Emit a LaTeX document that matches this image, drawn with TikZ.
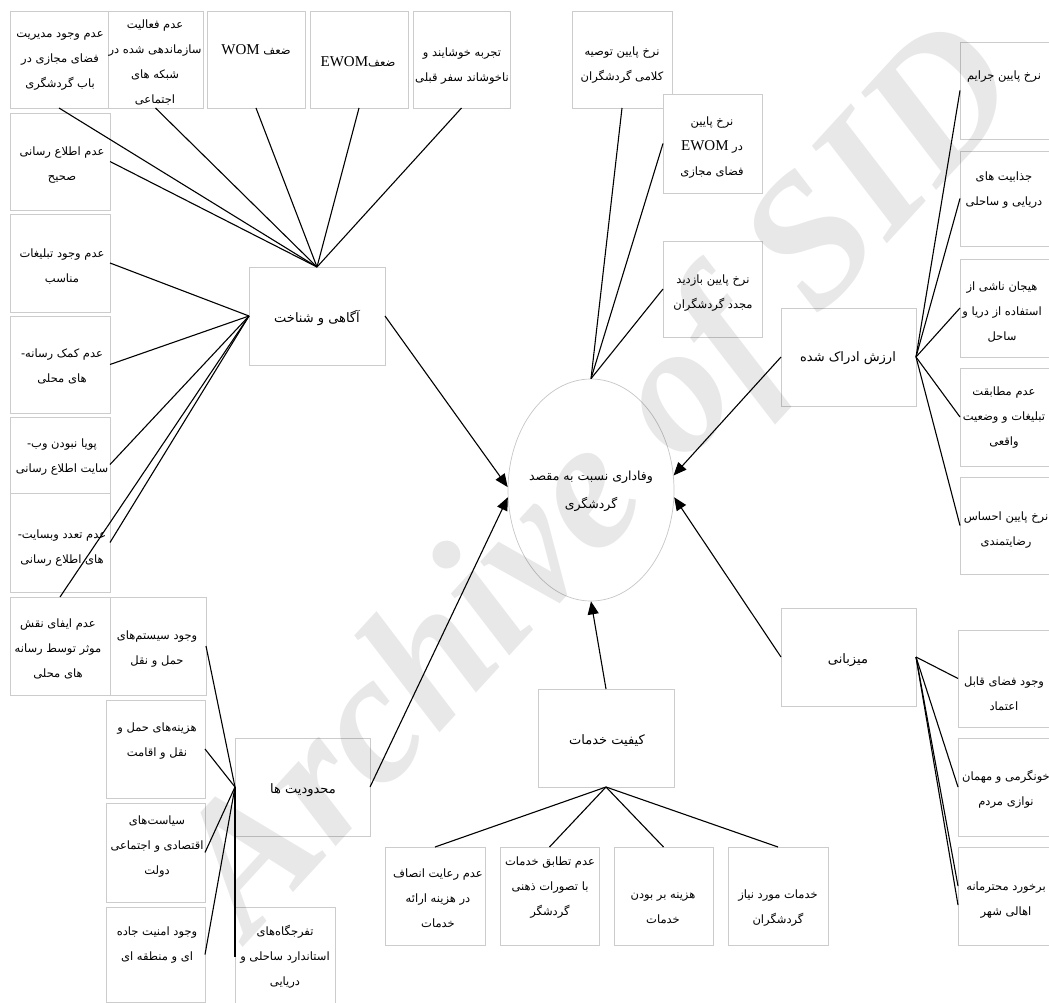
\documentclass[tikz,border=0pt]{standalone}
\usepackage{fontspec}
\TeXXeTstate=1
\newfontfamily\arabicfont[Script=Arabic]{DejaVu Sans}
\newfontfamily\latinfont{Liberation Serif}
\newfontfamily\wmfont{Liberation Serif}
\usetikzlibrary{shapes.geometric,arrows.meta}
\newcommand\rtl[1]{\beginR #1\endR}
\newcommand\lat[1]{\beginL{\latinfont\fontsize{15}{25}\selectfont #1}\endL}
\newcommand\bx[5]{\node[boxst, minimum width={#4-#2}, minimum height={#5-#3}] (#1) at ({(#2+#4)/2},{(#3+#5)/2}) {};}
\tikzset{
  boxst/.style={draw=gray!40, fill=white, line width=0.7pt, inner sep=0pt, outer sep=0pt},
  txt/.style={align=center, inner sep=0pt, font=\fontsize{11.5}{25}\selectfont\arabicfont},
  ln/.style={line width=1.1pt, black},
  arr/.style={line width=1.1pt, black, -{Triangle[length=13pt,width=11pt]}}
}
\begin{document}
\begin{tikzpicture}[x=1pt,y=-1pt]
\path[use as bounding box] (0,0) rectangle (1049,1003);
\clip (0,0) rectangle (1049,1003);
% top row
\bx{A}{10}{11}{108}{108}
\bx{B}{108}{11}{203}{108}
\bx{C}{207}{11}{305}{108}
\bx{D}{310}{11}{408}{108}
\bx{E}{413}{11}{510}{108}
% left column
\bx{L1}{10}{113}{110}{210}
\bx{L2}{10}{214}{110}{312}
\bx{L3}{10}{316}{110}{413}
\bx{L4}{10}{417}{110}{512}
\bx{L5}{10}{493}{110}{592}
\bx{L6}{10}{597}{110}{695}
% limitations column
\bx{P1}{110}{597}{206}{695}
\bx{P2}{106}{700}{205}{798}
\bx{P3}{106}{803}{205}{902}
\bx{P4}{106}{907}{205}{1002}
\bx{P5}{235}{907}{335}{1007}
% main factor boxes
\bx{aw}{249}{267}{385}{365}
\bx{lim}{235}{738}{370}{836}
\bx{svc}{538}{689}{674}{787}
\bx{host}{781}{608}{916}{706}
\bx{val}{781}{308}{916}{406}
% top right
\bx{T1}{572}{11}{672}{108}
\bx{T2}{663}{94}{762}{193}
\bx{T3}{663}{241}{762}{337}
% right column
\bx{R1}{960}{42}{1060}{139}
\bx{R2}{960}{151}{1060}{246}
\bx{R3}{960}{259}{1060}{357}
\bx{R4}{960}{368}{1060}{466}
\bx{R5}{960}{477}{1060}{574}
\bx{M1}{958}{630}{1058}{727}
\bx{M2}{958}{738}{1058}{836}
\bx{M3}{958}{847}{1058}{945}
% bottom row
\bx{B1}{385}{847}{485}{945}
\bx{B2}{500}{847}{599}{945}
\bx{B3}{614}{847}{713}{945}
\bx{B4}{728}{847}{828}{945}
% ellipse
\node[ellipse, draw=gray!45, line width=0.7pt, fill=white, minimum width=166, minimum height=222, inner sep=0pt] (ell) at (591,490) {};

% connectors
\foreach \n in {A,B,C,D,E} \draw[ln] (\n.south) -- (aw.north);
\draw[ln] (L1.east) -- (aw.north);
\foreach \n in {L2,L3,L4,L5} \draw[ln] (\n.east) -- (aw.west);
\draw[ln] (L6.north) -- (aw.west);
\foreach \n in {P1,P2,P3,P4} \draw[ln] (\n.east) -- (lim.west);
\draw[ln] (lim.west) -- (P5.west);
\foreach \n in {B1,B2,B3,B4} \draw[ln] (\n.north) -- (svc.south);
\draw[ln] (T1.south) -- (ell.north);
\draw[ln] (T2.west) -- (ell.north);
\draw[ln] (T3.west) -- (ell.north);
\foreach \n in {R1,R2,R3,R4,R5} \draw[ln] (val.east) -- (\n.west);
\draw[ln] (host.east) -- (M1.west);
\draw[ln] (host.east) -- (M2.west);
\draw[ln] (host.east) -- ([yshift=10pt]M3.west);
\draw[ln] (host.east) -- ([yshift=-9pt]M3.west);
\draw[arr] (aw.east) -- (ell.178);
\draw[arr] (lim.east) -- (ell.185);
\draw[arr] (svc.north) -- (ell.south);
\draw[arr] (host.west) -- (ell.355);
\draw[arr] (val.west) -- (ell.10);

% texts
\node[txt] (tA) at (60,60.5) {\rtl{عدم وجود مدیریت}\\\rtl{فضای مجازی در}\\\rtl{باب گردشگری}};
\node[txt] (tB) at (155,62.5) {\rtl{عدم فعالیت}\\\rtl{سازماندهی شده در}\\\rtl{شبکه های}\\\rtl{اجتماعی}};
\node[txt] (tC) at (256,50) {\rtl{ضعف \lat{WOM}}};
\node[txt] (tD) at (358,62) {\rtl{ضعف\lat{EWOM}}};
\node[txt] (tE) at (462,66.5) {\rtl{تجربه خوشایند و}\\\rtl{ناخوشاند سفر قبلی}};
\node[txt] (tL1) at (62,165.5) {\rtl{عدم اطلاع رسانی}\\\rtl{صحیح}};
\node[txt] (tL2) at (62,266.5) {\rtl{عدم وجود تبلیغات}\\\rtl{مناسب}};
\node[txt] (tL3) at (62,366.5) {\rtl{عدم کمک رسانه-}\\\rtl{های محلی}};
\node[txt] (tL4) at (62,457.5) {\rtl{پویا نبودن وب-}\\\rtl{سایت اطلاع رسانی}};
\node[txt] (tL5) at (62,548.5) {\rtl{عدم تعدد وبسایت-}\\\rtl{های اطلاع رسانی}};
\node[txt] (tL6) at (58,649) {\rtl{عدم ایفای نقش}\\\rtl{موثر توسط رسانه}\\\rtl{های محلی}};
\node[txt] (tP1) at (157,649.5) {\rtl{وجود سیستم‌های}\\\rtl{حمل و نقل}};
\node[txt] (tP2) at (157,741.5) {\rtl{هزینه‌های حمل و}\\\rtl{نقل و اقامت}};
\node[txt] (tP3) at (157,847) {\rtl{سیاست‌های}\\\rtl{اقتصادی و اجتماعی}\\\rtl{دولت}};
\node[txt] (tP4) at (157,945.5) {\rtl{وجود امنیت جاده}\\\rtl{ای و منطقه ای}};
\node[txt] (tP5) at (285,957) {\rtl{تفرجگاه‌های}\\\rtl{استاندارد ساحلی و}\\\rtl{دریایی}};
\node[txt, font=\fontsize{13}{25}\selectfont\arabicfont] (taw) at (317,318) {\rtl{آگاهی و شناخت}};
\node[txt, font=\fontsize{13}{25}\selectfont\arabicfont] (tlim) at (303,790) {\rtl{محدودیت ها}};
\node[txt, font=\fontsize{13}{25}\selectfont\arabicfont] (tsvc) at (607,741) {\rtl{کیفیت خدمات}};
\node[txt, font=\fontsize{13}{25}\selectfont\arabicfont] (thost) at (848,660) {\rtl{میزبانی}};
\node[txt, font=\fontsize{13}{25}\selectfont\arabicfont] (tval) at (848,358) {\rtl{ارزش ادراک شده}};
\node[txt, font=\fontsize{12.5}{28}\selectfont\arabicfont] (tell) at (591,491) {\rtl{وفاداری نسبت به مقصد}\\\rtl{گردشگری}};
\node[txt] (tT1) at (622,65.5) {\rtl{نرخ پایین توصیه}\\\rtl{کلامی گردشگران}};
\node[txt] (tT2) at (712,147.5) {\rtl{نرخ پایین}\\\rtl{در \lat{EWOM}}\\\rtl{فضای مجازی}};
\node[txt] (tT3) at (713,293.5) {\rtl{نرخ پایین بازدید}\\\rtl{مجدد گردشگران}};
\node[txt] (tR1) at (1004,77) {\rtl{نرخ پایین جرایم}};
\node[txt] (tR2) at (1004,190) {\rtl{جذابیت های}\\\rtl{دریایی و ساحلی}};
\node[txt] (tR3) at (1002,312) {\rtl{هیجان ناشی از}\\\rtl{استفاده از دریا و}\\\rtl{ساحل}};
\node[txt] (tR4) at (1004,418) {\rtl{عدم مطابقت}\\\rtl{تبلیغات و وضعیت}\\\rtl{واقعی}};
\node[txt] (tR5) at (1006,530) {\rtl{نرخ پایین احساس}\\\rtl{رضایتمندی}};
\node[txt] (tM1) at (1004,694) {\rtl{وجود فضای قابل}\\\rtl{اعتماد}};
\node[txt] (tM2) at (1006,789) {\rtl{خونگرمی و مهمان}\\\rtl{نوازی مردم}};
\node[txt] (tM3) at (1006,900) {\rtl{برخورد محترمانه}\\\rtl{اهالی شهر}};
\node[txt] (tB1) at (438,898) {\rtl{عدم رعایت انصاف}\\\rtl{در هزینه ارائه}\\\rtl{خدمات}};
\node[txt] (tB2) at (550,887.5) {\rtl{عدم تطابق خدمات}\\\rtl{با تصورات ذهنی}\\\rtl{گردشگر}};
\node[txt] (tB3) at (663,908.5) {\rtl{هزینه بر بودن}\\\rtl{خدمات}};
\node[txt] (tB4) at (778,908.5) {\rtl{خدمات مورد نیاز}\\\rtl{گردشگران}};

% watermark
\node[text=black, text opacity=0.09, rotate=47.5, inner sep=0pt, font=\wmfont\bfseries\itshape\fontsize{185}{185}\selectfont] (wm) at (605,485) {Archive of SID};
\end{tikzpicture}
\end{document}
